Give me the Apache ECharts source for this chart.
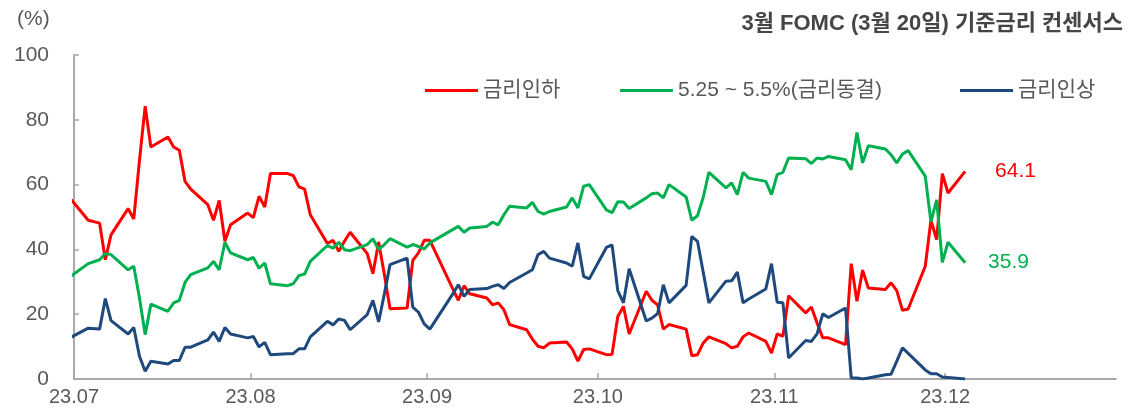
<!DOCTYPE html>
<html>
<head>
<meta charset="utf-8">
<script src="https://cdn.jsdelivr.net/npm/echarts@6/dist/echarts.min.js"></script>
<style>
  html, body { margin: 0; padding: 0; background: #fff; }
  #chart { width: 1134px; height: 412px; }
</style>
</head>
<body>
<div id="chart"></div>
<script>
// 영업일 (2023년)
const dates = ['06-30',
  '07-03','07-05','07-06','07-07','07-10','07-11','07-12','07-13','07-14','07-17','07-18','07-19','07-20','07-21','07-24','07-25','07-26','07-27','07-28','07-31',
  '08-01','08-02','08-03','08-04','08-07','08-08','08-09','08-10','08-11','08-14','08-15','08-16','08-17','08-18','08-21','08-22','08-23','08-24','08-25','08-28','08-29','08-30','08-31',
  '09-01','09-05','09-06','09-07','09-08','09-11','09-12','09-13','09-14','09-15','09-18','09-19','09-20','09-21','09-22','09-25','09-26','09-27','09-28','09-29',
  '10-02','10-03','10-04','10-05','10-06','10-09','10-10','10-11','10-12','10-13','10-16','10-17','10-18','10-19','10-20','10-23','10-24','10-25','10-26','10-27','10-30','10-31',
  '11-01','11-02','11-03','11-06','11-07','11-08','11-09','11-10','11-13','11-14','11-15','11-16','11-17','11-20','11-21','11-22','11-23','11-24','11-27','11-28','11-29','11-30',
  '12-01','12-04']

// 금리인하
const cutValues = [55.4,
  49.0, 48.1, 36.8, 44.5, 52.6, 49.4, 67.5, 84.2, 71.6, 74.7, 71.6, 70.6, 61.0, 58.6, 53.8, 49.0, 55.1, 42.5, 47.6, 51.2,
  49.8, 56.4, 53.1, 63.4, 63.4, 62.8, 59.3, 58.6, 50.7, 41.8, 42.8, 39.4, 42.5, 45.3, 38.7, 32.5, 42.3, 32.3, 21.7, 21.9, 36.6, 38.9, 42.8,
  42.8, 27.9, 24.3, 28.8, 26.3, 25.0, 22.9, 23.5, 21.4, 16.8, 15.2, 12.3, 10.1, 9.6, 11.1, 11.4, 9.3, 5.5, 9.1, 9.3,
  7.5, 7.6, 19.3, 22.4, 13.9, 27.1, 24.3, 22.9, 15.4, 16.8, 15.4, 7.2, 7.5, 11.1, 13.0, 10.9, 9.6, 10.1, 13.0, 14.2, 11.6, 8.0,
  13.9, 13.2, 25.7, 20.4, 22.2, 17.3, 12.7, 12.7, 10.6, 35.6, 24.0, 33.6, 28.1, 27.6, 29.7, 27.3, 21.2, 21.6, 34.8, 49.0, 43.0, 63.4,
  57.4, 64.1]

// 5.25 ~ 5.5% (금리동결)
const holdValues = [31.8,
  35.6, 36.8, 38.7, 38.4, 33.7, 34.8, 25.0, 13.7, 23.1, 20.9, 23.5, 24.3, 29.8, 32.2, 34.3, 36.3, 33.7, 42.2, 38.9, 36.8,
  37.5, 34.2, 35.8, 29.4, 28.8, 29.4, 31.9, 32.4, 36.3, 41.2, 40.4, 42.2, 39.9, 39.6, 41.5, 43.3, 39.9, 41.5, 43.3, 40.7, 41.5, 40.9, 40.1,
  42.0, 46.1, 47.1, 45.3, 46.6, 47.1, 48.4, 47.6, 50.7, 53.3, 52.8, 54.5, 51.7, 50.9, 51.7, 53.1, 55.9, 52.8, 59.5, 60.0,
  52.2, 51.3, 54.7, 54.6, 52.6, 55.9, 57.2, 57.4, 55.9, 60.0, 56.2, 49.0, 50.4, 56.0, 63.8, 59.0, 60.5, 56.9, 63.8, 62.0, 61.0, 56.9,
  63.1, 63.8, 68.2, 68.0, 66.5, 68.2, 67.9, 68.7, 67.7, 64.6, 76.1, 66.7, 72.0, 71.0, 69.2, 66.7, 69.4, 70.5, 62.6, 48.5, 55.3, 36.0,
  42.2, 35.9]

// 금리인상
const hikeValues = [12.9,
  15.7, 15.4, 24.8, 18.0, 13.9, 15.9, 7.0, 2.4, 5.5, 4.6, 5.7, 5.7, 9.8, 9.8, 12.1, 14.5, 11.6, 15.9, 13.9, 12.7,
  13.1, 9.9, 11.3, 7.5, 7.8, 7.8, 9.3, 9.3, 13.0, 17.8, 16.7, 18.5, 18.1, 15.2, 19.9, 24.3, 17.6, 26.2, 35.3, 37.3, 22.2, 20.6, 17.0,
  15.4, 26.2, 29.1, 25.5, 27.6, 27.9, 28.6, 29.1, 27.9, 29.8, 32.7, 33.7, 38.4, 39.4, 37.3, 35.8, 34.8, 42.0, 31.7, 30.9,
  40.6, 41.4, 27.3, 23.5, 34.0, 17.9, 18.8, 20.2, 29.1, 23.5, 28.9, 44.0, 42.5, 33.0, 23.5, 30.2, 30.3, 33.0, 23.5, 24.7, 27.8, 35.6,
  23.7, 23.5, 6.5, 11.9, 11.6, 13.9, 20.1, 19.0, 21.9, 0.3, 0.3, 0.0, 0.3, 1.3, 1.5, 5.5, 9.6, 7.9, 2.8, 1.6, 1.6, 0.6,
  0.5, 0.0]

const seriesNames = ['금리인하', '5.25 ~ 5.5%(금리동결)', '금리인상']
const seriesColors = ['#ff0000', '#00b050', '#1f497d']
const monthTicks = ['07-01', '08-01', '09-01', '10-01', '11-01', '12-01']
const monthLabels = ['23.07', '23.08', '23.09', '23.10', '23.11', '23.12']

const FONT = "'Liberation Sans', 'Noto Sans CJK KR', sans-serif"
const toTime = (md, hour) => {
  const [m, d] = md.split('-').map(Number)
  return new Date(2023, m - 1, d, hour || 0).getTime()
}
const tickTimes = monthTicks.map(md => toTime(md))
// 각 영업일은 하루 폭의 가운데(정오)에 찍는다
const pairs = vals => dates.map((md, i) => [toTime(md, 12), vals[i]])

const chart = echarts.init(document.getElementById('chart'))

const makeSeries = (idx, vals, labelDistance) => ({
  name: seriesNames[idx],
  type: 'line',
  data: pairs(vals),
  symbol: 'none',
  clip: true,
  lineStyle: { width: 3, color: seriesColors[idx] },
  itemStyle: { color: seriesColors[idx] },
  endLabel: {
    show: labelDistance != null,
    formatter: p => p.value[1].toFixed(1),
    color: seriesColors[idx],
    fontSize: 21,
    fontFamily: FONT,
    distance: labelDistance || 0
  }
})

const legendAt = (idx, left) => ({
  data: [seriesNames[idx]],
  left: left,
  top: 75,
  icon: 'rect',
  itemWidth: 53,
  itemHeight: 3,
  itemGap: 5,
  textStyle: { fontSize: 21, color: '#595959', fontFamily: FONT }
})

chart.setOption({
  animation: false,
  title: {
    text: '3월 FOMC (3월 20일) 기준금리 컨센서스',
    right: 6,
    top: 8,
    textStyle: { fontSize: 22, fontWeight: 'bold', color: '#454545', fontFamily: FONT }
  },
  graphic: [{
    type: 'text',
    left: 17,
    top: 9,
    style: { text: '(%)', fill: '#595959', font: '21px ' + FONT }
  }],
  legend: [legendAt(0, 420), legendAt(1, 615), legendAt(2, 955)],
  grid: { left: 74, right: 18, top: 55, bottom: 33 },
  xAxis: {
    type: 'value',
    min: toTime('07-01'),
    max: toTime('12-31'),
    axisLine: { lineStyle: { color: '#8c8c8c', width: 1.5 } },
    axisTick: {
      show: true,
      inside: true,
      length: 6,
      customValues: tickTimes,
      lineStyle: { color: '#a6a6a6', width: 1.5 }
    },
    axisLabel: {
      customValues: tickTimes,
      formatter: v => {
        const i = tickTimes.indexOf(v)
        return i >= 0 ? monthLabels[i] : ''
      },
      fontSize: 20,
      color: '#595959',
      fontFamily: FONT,
      margin: 8
    },
    splitLine: { show: false }
  },
  yAxis: {
    type: 'value',
    min: 0,
    max: 100,
    interval: 20,
    axisLine: { show: true, lineStyle: { color: '#8c8c8c', width: 1.5 } },
    axisTick: { show: true, inside: true, length: 5, lineStyle: { color: '#a6a6a6', width: 1.5 } },
    axisLabel: { fontSize: 21, color: '#595959', fontFamily: FONT, margin: 25 },
    splitLine: { show: false }
  },
  series: [
    makeSeries(0, cutValues, 30),
    makeSeries(1, holdValues, 23),
    makeSeries(2, hikeValues, null)
  ]
})
</script>
</body>
</html>
